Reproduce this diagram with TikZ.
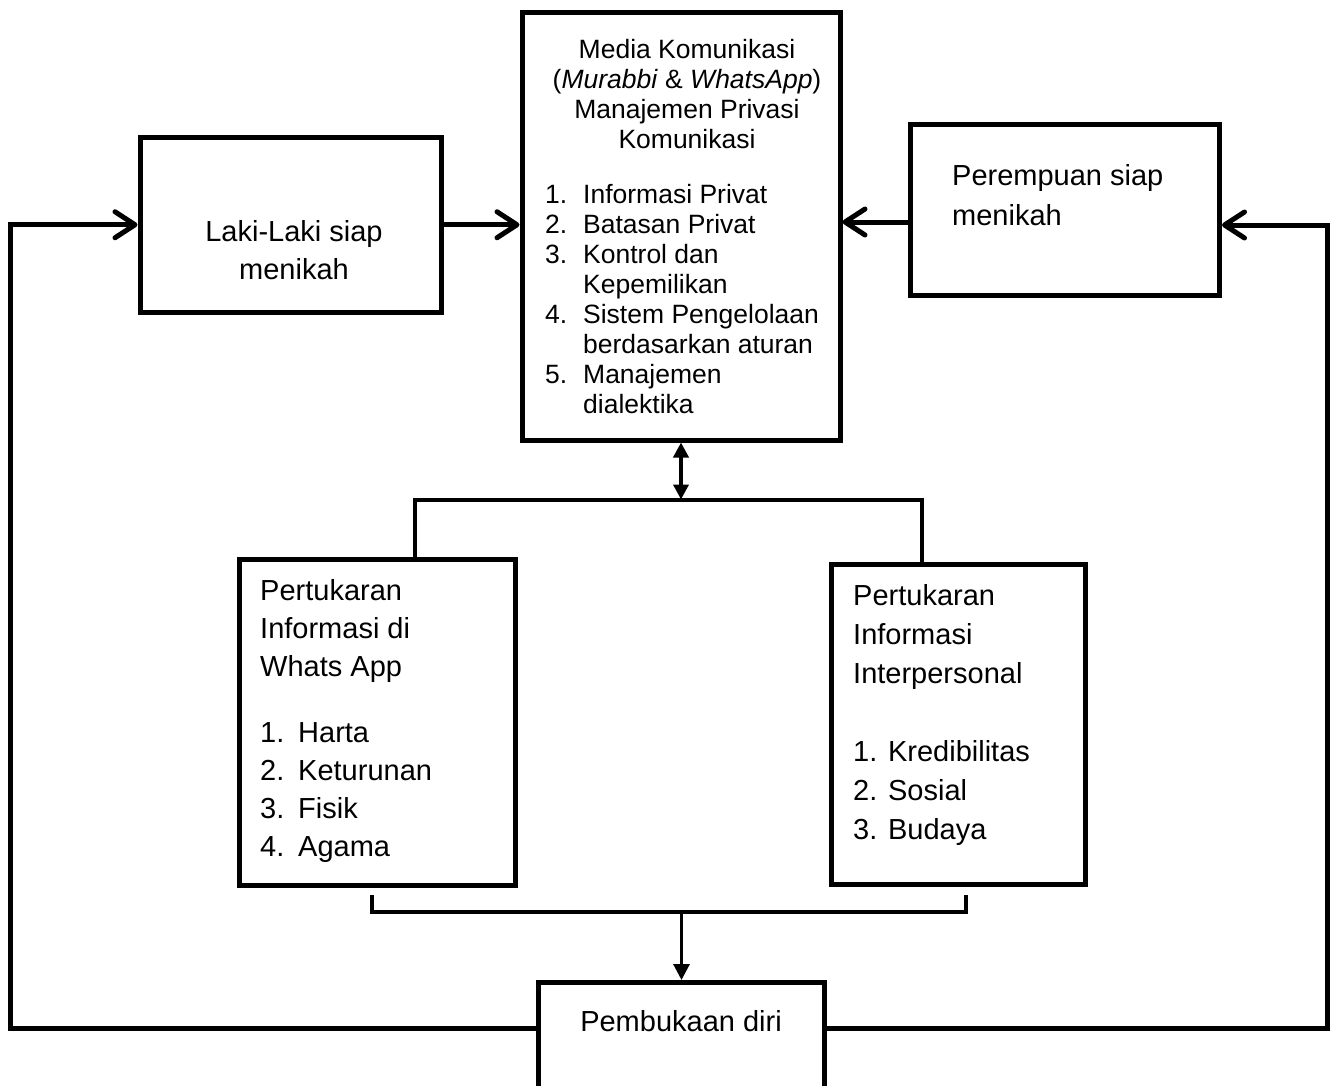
\documentclass[tikz,border=0pt]{standalone}
\usepackage{fontspec}
\setmainfont{Liberation Sans}
\usetikzlibrary{arrows.meta,positioning,calc}
\newcommand{\listno}[1]{\makebox[38pt][l]{#1}}

\begin{document}
\begin{tikzpicture}[x=1pt, y=-1pt,
    box/.style={draw, line width=5pt, inner sep=0pt},
    link/.style={line width=5pt, -{Straight Barb[length=20pt,width=26pt,round]}},
    txt/.style={inner sep=0pt, font=\fontsize{29}{38}\selectfont},
    medtxt/.style={inner sep=0pt, font=\fontsize{26.5}{30}\selectfont}]
  \useasboundingbox (0,0) rectangle (1331,1085);
  \clip (0,0) rectangle (1331,1085);
  % kotak
  \node[box, minimum width=301pt, minimum height=174.5pt] (laki) at (290.5,224.75) {};
  \node[box, minimum width=318pt, minimum height=427.5pt] (media) at (681,226.25) {};
  \node[box, minimum width=309pt, minimum height=171pt] (perempuan) at (1065,210) {};
  \node[box, minimum width=276.5pt, minimum height=326pt] (wa) at (377.25,722) {};
  \node[box, minimum width=254pt, minimum height=320pt] (inter) at (958.5,724.5) {};
  \node[box, minimum width=286pt, minimum height=137.5pt] (buka) at (681.5,1051.25) {};
  % teks
  \node[txt, anchor=north, align=center] (lakitxt) at (294,220) {Laki-Laki siap\\menikah};
  \node[txt, font=\fontsize{29}{40}\selectfont, anchor=north west, align=left] (pertxt) at (952,164) {Perempuan siap\\menikah};
  \node[medtxt, anchor=north, align=center] (medtitle) at (687,39) {Media Komunikasi\\(\textit{Murabbi} \& \textit{WhatsApp})\\Manajemen Privasi\\Komunikasi};
  \node[medtxt, anchor=north west, align=left] (medlist) at (545,184) {\listno{1.}Informasi Privat\\\listno{2.}Batasan Privat\\\listno{3.}Kontrol dan\\\listno{}Kepemilikan\\\listno{4.}Sistem Pengelolaan\\\listno{}berdasarkan aturan\\\listno{5.}Manajemen\\\listno{}dialektika};
  \node[txt, anchor=north west, align=left] (watxt) at (260,579) {Pertukaran\\Informasi di\\Whats App\\[28pt]\listno{1.}Harta\\\listno{2.}Keturunan\\\listno{3.}Fisik\\\listno{4.}Agama};
  \node[txt, font=\fontsize{29}{39}\selectfont, anchor=north west, align=left] (intertxt) at (853,584) {Pertukaran\\Informasi\\Interpersonal\\[39pt]1. Kredibilitas\\2. Sosial\\3. Budaya};
  \node[txt, anchor=base] (bukatxt) at (681,1031) {Pembukaan diri};
  % garis
  \coordinate (lc) at (10,224.75);
  \coordinate (rc) at (1327,225);
  \draw[link] ([yshift=23pt]buka.west) -| (lc) -- (lc -| laki.west);
  \draw[link] ([yshift=23pt]buka.east) -| (rc) -- (rc -| perempuan.east);
  \draw[link] (laki.east) -- (laki.east -| media.west);
  \draw[link] ([yshift=-12pt]perempuan.west) -- ([yshift=-12pt]perempuan.west -| media.east);
  \coordinate (tl) at (415,499.5);
  \coordinate (tr) at (922,499.5);
  \draw[line width=4pt] (tl |- wa.north) -- (tl) -- (tr) -- (tr |- inter.north);
  \draw[line width=4pt, {Triangle[length=15pt,width=15pt]}-{Triangle[length=15pt,width=15pt]}] (media.south) -- (media.south |- tl);
  \coordinate (bl) at (372,912);
  \coordinate (br) at (966,912);
  \draw[line width=4pt] ([yshift=17pt]bl) -- (bl) -- (br) -- ([yshift=17pt]br);
  \draw[line width=3pt, -{Triangle[length=16pt,width=16pt]}] (buka.north |- bl) -- (buka.north);
\end{tikzpicture}
\end{document}
